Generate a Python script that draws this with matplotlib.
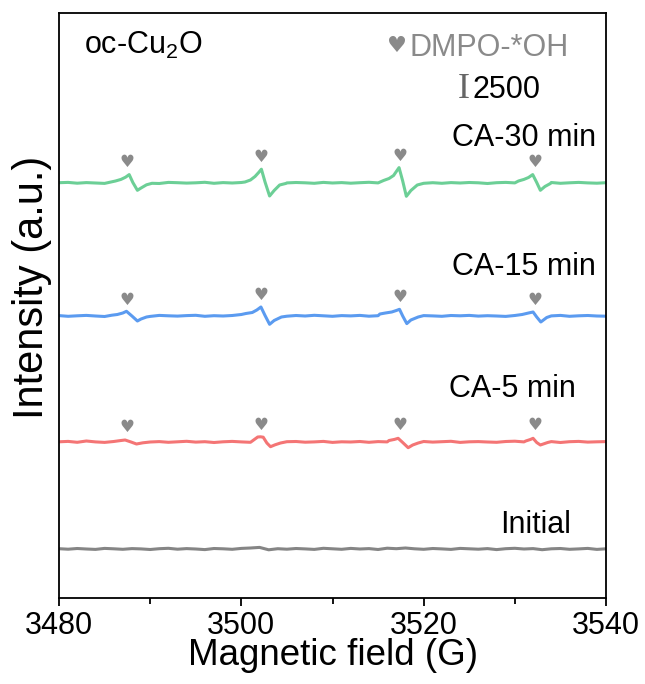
import matplotlib
matplotlib.use("Agg")
import matplotlib.pyplot as plt
import numpy as np
from matplotlib.ticker import MultipleLocator

plt.rcParams["font.family"] = ["Liberation Sans", "DejaVu Sans"]
plt.rcParams["mathtext.default"] = "regular"

# %%
# Data (field in G, intensity in plot units above each baseline)

grid_field = list(range(3480, 3541))

offsets = {"Initial": 49, "CA-5 min": 156, "CA-15 min": 282, "CA-30 min": 415}

initial_base = [
    0.3, -0.2, 0.5, 0.0, -0.4, 0.6, 0.2, -0.3, 0.4, 0.1,
    -0.5, 0.3, 0.7, -0.2, 0.4, 0.0, -0.6, 0.5, 0.2, -0.3,
    0.6, 1.0, 1.6, -0.8, 0.3, -0.2, 0.5, 0.1, -0.4, 0.7,
    0.2, -0.3, 0.6, 0.0, 0.4, -0.5, 0.8, 0.3, 1.0, 0.2,
    -0.3, 0.5, 0.1, -0.4, 0.6, 0.2, -0.2, 0.4, -0.6, 0.3,
    0.7, 0.0, 0.4, -0.7, 0.2, 0.5, -0.3, 0.1, 0.6, -0.4,
    0.2,
]
ca5_base = [
    0.2, 0.6, -0.3, 1.0, 0.1, -0.4, 0.5, 0.3, -0.2, -0.6,
    0.0, 0.4, -0.3, 0.2, 0.7, -0.1, 0.3, -0.5, 0.2, 0.6,
    0.1, -0.3, 0.4, 0.0, -0.6, 0.3, 0.5, -0.2, 0.1, 0.6,
    -0.4, 0.2, 0.0, 0.5, -0.3, 0.4, 0.1, -0.2, 0.6, 0.3,
    0.5, -0.1, 0.3, 0.7, -0.4, 0.2, 0.4, 0.0, -0.3, 0.5,
    0.8, 0.1, 0.0, -0.2, 0.4, -0.5, 0.3, 0.6, -0.1, 0.2,
    0.4,
]
ca15_base = [
    0.4, -0.3, 0.2, 0.6, 0.0, -0.5, 0.3, 0.5, -0.2, 0.1,
    -0.4, 0.6, 0.2, -0.1, 0.4, 0.7, -0.3, 0.3, 0.0, 0.5,
    0.2, -0.2, 0.6, 0.1, 0.3, -0.4, 0.5, 0.0, 0.7, 0.2,
    -0.3, 0.4, 0.1, 0.6, -0.2, 0.3, 0.8, 0.0, 0.2, -0.5,
    0.4, 0.1, -0.3, 0.5, 0.2, 0.6, -0.1, 0.3, 0.0, -0.4,
    0.5, 0.2, 0.4, -0.2, 0.1, 0.6, -0.3, 0.2, 0.5, 0.0,
    -0.2,
]
ca30_base = [
    0.3, 0.6, -0.2, 0.4, 0.0, -0.4, 0.5, 0.2, -0.3, 0.4,
    0.1, -0.5, 0.6, 0.3, -0.1, 0.2, 0.7, -0.3, 0.4, 0.0,
    0.5, -0.2, 0.3, 0.8, -0.4, 0.1, 0.5, 0.2, -0.3, 0.6,
    0.0, 0.4, -0.2, 0.3, 0.7, 0.1, -0.4, 0.5, 0.2, -0.1,
    0.6, 0.3, -0.3, 0.4, 0.0, 0.5, 0.2, -0.5, 0.3, 0.6,
    0.1, -0.2, 0.4, 0.0, 0.5, -0.3, 0.2, 0.6, 0.1, -0.2,
    0.3,
]

# DMPO-*OH lines (1:2:2:1), read per spectrum
ca30_peak_field = [
    [3485.6, 3486.2, 3486.8, 3487.3, 3487.7, 3488.1, 3488.6, 3489.0, 3489.6, 3490.2],
    [3500.4, 3501.0, 3501.5, 3501.9, 3502.2, 3502.6, 3503.1, 3503.6, 3504.2, 3504.9],
    [3515.6, 3516.2, 3516.7, 3517.0, 3517.3, 3517.7, 3518.1, 3518.6, 3519.3, 3520.0],
    [3530.4, 3531.0, 3531.5, 3531.96, 3532.4, 3532.8, 3533.3, 3533.9],
]
ca30_peak_value = [
    [0.8, 2.0, 3.6, 5.8, 8.4, 0.5, -7.3, -5.0, -1.8, -0.3],
    [1.0, 3.0, 6.5, 10.5, 13.8, 1.0, -13.0, -7.5, -2.0, -0.4],
    [2.5, 4.5, 7.5, 11.5, 15.4, 2.0, -13.3, -7.5, -2.0, -0.3],
    [2.0, 3.6, 5.5, 8.4, 0.5, -7.3, -3.5, -0.5],
]
ca15_peak_field = [
    [3485.8, 3486.4, 3487.0, 3487.4, 3488.0, 3488.6, 3489.0, 3489.6],
    [3500.0, 3500.5, 3501.2, 3501.7, 3502.15, 3502.6, 3503.1, 3503.6, 3504.4, 3505.0],
    [3515.2, 3515.8, 3516.5, 3517.0, 3517.35, 3517.7, 3518.15, 3518.6, 3519.4],
    [3530.8, 3531.5, 3532.0, 3532.4, 3532.85, 3533.5],
]
ca15_peak_value = [
    [0.8, 1.5, 3.0, 4.7, 0.0, -5.0, -3.0, -1.0],
    [1.5, 2.5, 3.5, 6.0, 9.0, 0.5, -8.3, -4.5, -1.0, -0.2],
    [2.0, 3.0, 4.0, 5.5, 6.7, 0.0, -7.6, -4.0, -1.0],
    [1.5, 3.0, 4.0, -1.0, -6.0, -1.5],
]
ca5_peak_field = [
    [3486.4, 3486.8, 3487.25, 3487.9, 3488.5, 3489.2],
    [3501.2, 3501.8, 3502.1, 3502.4, 3502.8, 3503.2, 3503.7, 3504.3],
    [3516.2, 3516.8, 3517.2, 3517.7, 3518.3, 3518.8, 3519.4],
    [3531.2, 3531.7, 3532.0, 3532.4, 3532.8, 3533.6],
]
ca5_peak_value = [
    [1.0, 1.5, 2.0, 0.0, -2.0, -0.8],
    [1.0, 5.0, 5.2, 4.8, -1.0, -4.7, -2.8, -1.0],
    [1.5, 2.6, 3.7, -0.5, -5.7, -3.0, -1.0],
    [1.0, 2.5, 3.7, -0.5, -3.0, -0.5],
]

heart_field = [3487.4, 3502.2, 3517.4, 3532.2]
ca30_heart_y = [436, 441, 442, 436]
ca15_heart_y = [298, 303, 301, 298]
ca5_heart_y = [171, 173, 173, 173]

colors = {
    "Initial": "#858585",
    "CA-5 min": "#f47575",
    "CA-15 min": "#5b9bf0",
    "CA-30 min": "#6ccf96",
}
heart_color = "#8a8a8a"


def build(base, peak_field, peak_value, offset):
    xs, ys = [], []
    for x, v in zip(grid_field, base):
        if any(f[0] <= x <= f[-1] for f in peak_field):
            continue
        xs.append(x)
        ys.append(v)
    for f, v in zip(peak_field, peak_value):
        xs += f
        ys += v
    order = np.argsort(xs)
    return np.array(xs)[order], np.array(ys)[order] + offset


# %%
# Plot

fig = plt.figure(figsize=(6.45, 6.84), dpi=100)
ax = fig.add_axes([59 / 645, 1 - 598 / 684, 547 / 645, 585.5 / 684])

spectra = [
    ("Initial", initial_base, [], []),
    ("CA-5 min", ca5_base, ca5_peak_field, ca5_peak_value),
    ("CA-15 min", ca15_base, ca15_peak_field, ca15_peak_value),
    ("CA-30 min", ca30_base, ca30_peak_field, ca30_peak_value),
]
for name, base, pf, pv in spectra:
    x, y = build(base, pf, pv, offsets[name])
    ax.plot(x, y, color=colors[name], lw=2.2, solid_joinstyle="round")

for hy in [ca30_heart_y, ca15_heart_y, ca5_heart_y]:
    for hx, yy in zip(heart_field, hy):
        ax.text(hx, yy, "\u2665", ha="center", va="center", fontsize=12,
                color=heart_color, family="DejaVu Sans")

ax.text(3538.9, 452, "CA-30 min", ha="right", va="baseline", fontsize=22)
ax.text(3538.9, 323, "CA-15 min", ha="right", va="baseline", fontsize=22)
ax.text(3536.7, 201, "CA-5 min", ha="right", va="baseline", fontsize=22)
ax.text(3536.2, 65, "Initial", ha="right", va="baseline", fontsize=22)

ax.text(3482.7, 544, r"oc-Cu$_2$O", ha="left", va="baseline", fontsize=22)
ax.text(3517.1, 552, "\u2665", ha="center", va="center", fontsize=16,
        color=heart_color, family="DejaVu Sans")
ax.text(3518.5, 542, "DMPO-*OH", ha="left", va="baseline", fontsize=22,
        color=heart_color)
ax.text(3524.4, 500, "I", ha="center", va="baseline", fontsize=26,
        color="#666666", family="Liberation Serif")
ax.text(3525.4, 500, "2500", ha="left", va="baseline", fontsize=22)

ax.set_xlim(3480, 3540)
ax.set_ylim(0, 585.5)
ax.set_yticks([])
ax.set_xticks([3480, 3500, 3520, 3540])
ax.xaxis.set_minor_locator(MultipleLocator(10))
ax.tick_params(axis="x", which="major", direction="out", length=6, width=1.3,
               labelsize=22, pad=3)
ax.tick_params(axis="x", which="minor", direction="out", length=4, width=1.3)
for s in ax.spines.values():
    s.set_linewidth(1.3)

ax.set_xlabel("Magnetic field (G)", fontsize=26.5, labelpad=-2)
ax.set_ylabel("Intensity (a.u.)", fontsize=30)
ax.yaxis.set_label_coords(-0.012, 0.53)

fig.savefig("out.png", dpi=100)
